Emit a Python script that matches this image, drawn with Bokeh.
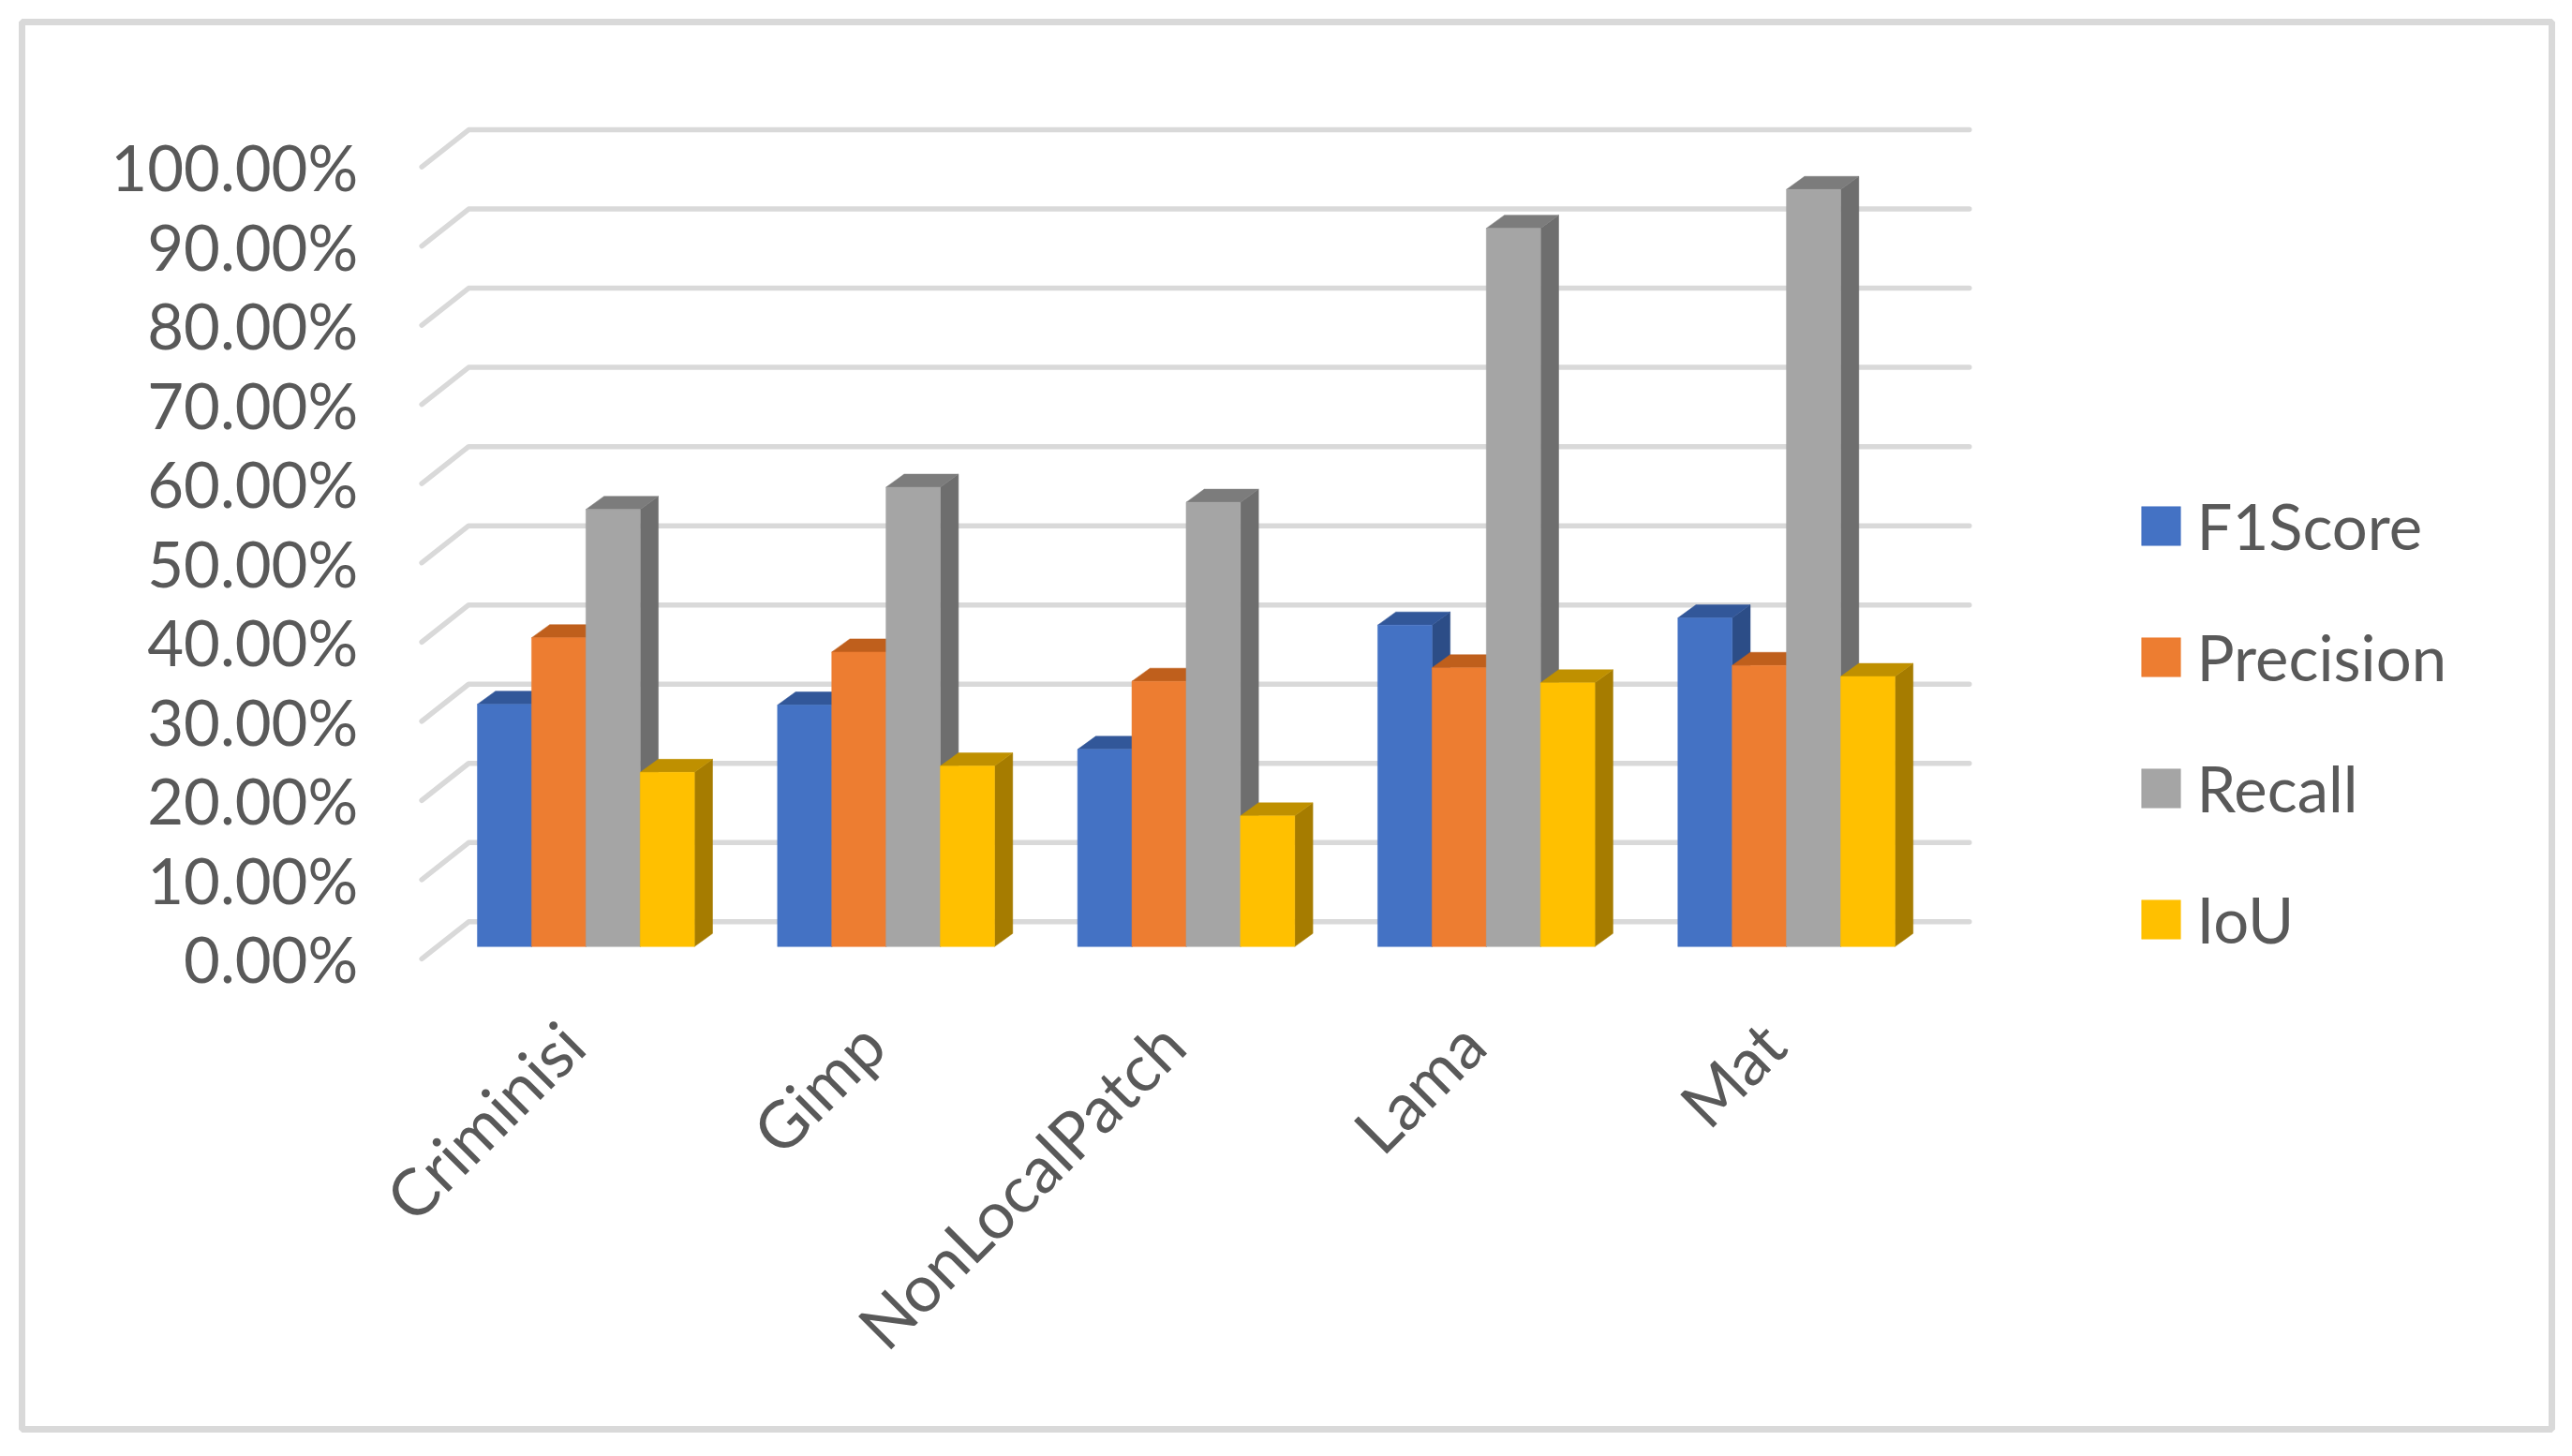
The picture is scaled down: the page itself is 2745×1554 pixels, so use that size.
import math
from bokeh.plotting import figure
from bokeh.embed import file_html
from bokeh.resources import INLINE
from bokeh.models import Range1d, FixedTicker, NumeralTickFormatter, Legend, LegendItem

categories = ["Criminisi", "Gimp", "NonLocalPatch", "Lama", "Mat"]
series_names = ["F1Score", "Precision", "Recall", "IoU"]
f1score = [0.306, 0.305, 0.249, 0.406, 0.415]
precision = [0.390, 0.372, 0.335, 0.352, 0.355]
recall = [0.552, 0.580, 0.561, 0.907, 0.956]
iou = [0.220, 0.228, 0.165, 0.333, 0.341]
y_ticks = [0.0, 0.1, 0.2, 0.3, 0.4, 0.5, 0.6, 0.7, 0.8, 0.9, 1.0]

front_colors = ["#4472c4", "#ed7d31", "#a5a5a5", "#ffc000"]
top_colors = ["#325799", "#bf5f1c", "#7c7c7c", "#bf9000"]
side_colors = ["#2c4d87", "#ae5a21", "#6e6e6e", "#a67c00"]
TEXT = "#595959"
GRID = "#d9d9d9"
FONT = "Lato"

# geometry in picture pixels
OFF = 0                # canvas origin in the picture
CAT_PX = 320.2         # width of one category
V_PX = 845.0           # height of 100%
X0, Y0 = 450.0, 1023.0 # picture position of x=0, y=0 (front edge of the walls)
BOX_L, BOX_R, BOX_T, BOX_B = 23.5, 2722.5, 23.5, 1525.0  # frame

p = figure(width=2729, height=1538, output_backend="svg", toolbar_location=None,
           x_range=Range1d((BOX_L - X0) / CAT_PX, (BOX_R - X0) / CAT_PX),
           y_range=Range1d((Y0 - BOX_B) / V_PX, (Y0 - BOX_T) / V_PX),
           min_border_left=int(BOX_L - OFF), min_border_right=int(2729 - (BOX_R - OFF)),
           min_border_top=int(BOX_T - OFF), min_border_bottom=int(1538 - (BOX_B - OFF)),
           background_fill_color="white", border_fill_color="white")
p.outline_line_color = GRID
p.outline_line_width = 7
p.grid.visible = False

# walls: front end of each tick -> back wall -> right end
back_dx, back_dy = 50 / CAT_PX, 39.5 / V_PX
p.multi_line(xs=[[0, back_dx, 5 + back_dx] for _ in y_ticks],
             ys=[[v, v + back_dy, v + back_dy] for v in y_ticks],
             line_color=GRID, line_width=5.5, line_join="round", line_cap="round")

bar_w = 57.9 / CAT_PX
plane_dx, plane_dy = 15 / CAT_PX, 13 / V_PX
depth_dx, depth_dy = 19.3 / CAT_PX, 14 / V_PX
margin = (1 - 4 * bar_w) / 2
items = []
for s, (name, vals) in enumerate(zip(series_names, [f1score, precision, recall, iou])):
    left = [i + margin + s * bar_w + plane_dx for i in range(5)]
    right = [x + bar_w for x in left]
    top = [v + plane_dy for v in vals]
    bot = [plane_dy] * 5
    p.patches(xs=[[r, r + depth_dx, r + depth_dx, r] for r in right],
              ys=[[t, t + depth_dy, b + depth_dy, b] for t, b in zip(top, bot)],
              fill_color=side_colors[s], line_color=side_colors[s], line_width=0.5)
    p.patches(xs=[[l, l + depth_dx, r + depth_dx, r] for l, r in zip(left, right)],
              ys=[[t, t + depth_dy, t + depth_dy, t] for t in top],
              fill_color=top_colors[s], line_color=top_colors[s], line_width=0.5)
    q = p.quad(left=left, right=right, bottom=bot, top=top,
               fill_color=front_colors[s], line_color=front_colors[s], line_width=0.5)
    items.append(LegendItem(label=name, renderers=[q]))

# axes sit inside the frame at fixed positions
p.yaxis.ticker = FixedTicker(ticks=y_ticks)
p.yaxis.formatter = NumeralTickFormatter(format="0.00%")
p.xaxis.ticker = FixedTicker(ticks=[i + 0.5 for i in range(5)])
p.xaxis.major_label_overrides = {i + 0.5: c for i, c in enumerate(categories)}
p.xaxis.major_label_orientation = math.radians(45)
p.yaxis.fixed_location = (390 - X0) / CAT_PX
p.xaxis.fixed_location = -7 / V_PX
for ax in (p.xaxis[0], p.yaxis[0]):
    ax.axis_line_color = None
    ax.major_tick_line_color = None
    ax.minor_tick_line_color = None
    ax.major_label_text_color = TEXT
    ax.major_label_text_font = FONT
p.yaxis.major_label_text_font_size = "67px"
p.xaxis.major_label_text_font_size = "69.5px"
p.yaxis.major_label_standoff = 2
p.xaxis.major_label_standoff = 66

legend = Legend(items=items, location=(2280 - BOX_L, 504), orientation="vertical",
                glyph_width=52, glyph_height=52, label_standoff=13, spacing=60,
                padding=0, margin=0, border_line_color=None, background_fill_alpha=0,
                label_text_font=FONT, label_text_font_size="67px", label_text_color=TEXT)
p.add_layout(legend, "center")

open("out.html", "w").write(file_html(p, INLINE))
